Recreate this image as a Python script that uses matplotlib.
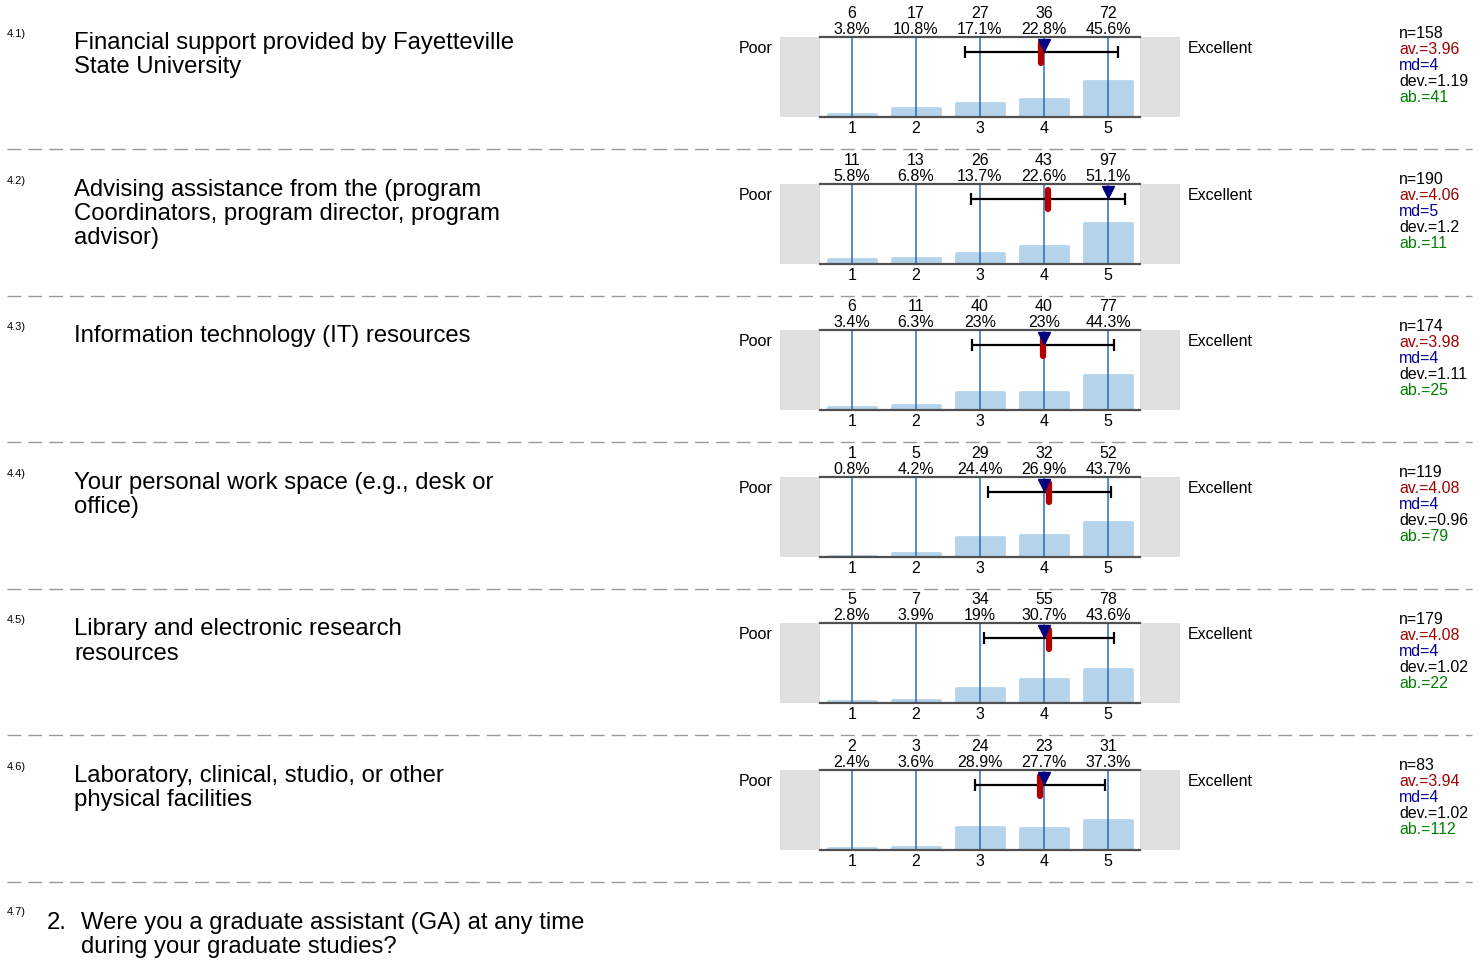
import matplotlib

matplotlib.use("Agg")
import matplotlib.pyplot as plt
from matplotlib.patches import Rectangle

plt.rcParams["font.family"] = ["Liberation Sans", "DejaVu Sans"]
plt.rcParams["lines.scale_dashes"] = False

# data
numbers = ["4.1)", "4.2)", "4.3)", "4.4)", "4.5)", "4.6)"]
questions = [
    "Financial support provided by Fayetteville\nState University",
    "Advising assistance from the (program\nCoordinators, program director, program\nadvisor)",
    "Information technology (IT) resources",
    "Your personal work space (e.g., desk or\noffice)",
    "Library and electronic research\nresources",
    "Laboratory, clinical, studio, or other\nphysical facilities",
]
categories = [1, 2, 3, 4, 5]
counts = [
    [6, 17, 27, 36, 72],
    [11, 13, 26, 43, 97],
    [6, 11, 40, 40, 77],
    [1, 5, 29, 32, 52],
    [5, 7, 34, 55, 78],
    [2, 3, 24, 23, 31],
]
percents = [
    [3.8, 10.8, 17.1, 22.8, 45.6],
    [5.8, 6.8, 13.7, 22.6, 51.1],
    [3.4, 6.3, 23, 23, 44.3],
    [0.8, 4.2, 24.4, 26.9, 43.7],
    [2.8, 3.9, 19, 30.7, 43.6],
    [2.4, 3.6, 28.9, 27.7, 37.3],
]
n_vals = [158, 190, 174, 119, 179, 83]
means = [3.96, 4.06, 3.98, 4.08, 4.08, 3.94]
medians = [4, 5, 4, 4, 4, 4]
devs = [1.19, 1.2, 1.11, 0.96, 1.02, 1.02]
abstain = [41, 11, 25, 79, 22, 112]
left_label = "Poor"
right_label = "Excellent"
last_number = "4.7)"
last_question = "Were you a graduate assistant (GA) at any time\nduring your graduate studies?"

W, H = 1484, 961
fig = plt.figure(figsize=(W / 100, H / 100), dpi=100)
bg = fig.add_axes([0, 0, 1, 1])
bg.set_xlim(0, W)
bg.set_ylim(H, 0)
bg.axis("off")

step = 146.6
bar_color = "#b5d4ec"
line_color = "#2a6db5"
frame_color = "#505050"
q_size = 17.2
q_spacing = 1.13

for i in range(len(questions)):
    top = 37 + i * step

    bg.text(7, top, numbers[i], fontsize=8, va="baseline")
    bg.text(74, top - 5, questions[i], fontsize=q_size, va="top", linespacing=q_spacing)
    bg.text(772, top + 16, left_label, fontsize=11.5, ha="right", va="baseline")
    bg.text(1188, top + 16, right_label, fontsize=11.5, ha="left", va="baseline")

    stats = [
        (f"n={n_vals[i]}", "black"),
        (f"av.={means[i]}", "#a00000"),
        (f"md={medians[i]}", "#000099"),
        (f"dev.={devs[i]}", "black"),
        (f"ab.={abstain[i]}", "#008000"),
    ]
    for k, (s, c) in enumerate(stats):
        bg.text(1399, top + 0.5 + 16 * k, s, fontsize=11.4, color=c, va="baseline")

    # separator under the block
    bg.plot([7, 1472], [149 + i * step] * 2, color="#9a9a9a", lw=1, dashes=(10, 5))

    # histogram block: 780..1180 px wide, 80 px tall
    ax = fig.add_axes([780 / W, 1 - (top + 80) / H, 400 / W, 80 / H])
    ax.set_xlim(-0.125, 6.125)
    ax.set_ylim(0, 100)
    ax.axis("off")

    ax.add_patch(Rectangle((-0.125, 0), 0.625, 100, color="#e0e0e0", lw=0))
    ax.add_patch(Rectangle((5.5, 0), 0.625, 100, color="#e0e0e0", lw=0))

    ax.bar(categories, percents[i], width=0.76, color=bar_color,
           edgecolor=bar_color, lw=2, joinstyle="round", zorder=1)
    ax.vlines(categories, 0, 100, color=line_color, lw=1.1, zorder=2)
    ax.plot([0.5, 5.5], [100, 100], color=frame_color, lw=1.6, clip_on=False, zorder=3)
    ax.plot([0.5, 5.5], [0, 0], color=frame_color, lw=1.6, clip_on=False, zorder=3)

    ax.errorbar(means[i], 81.25, xerr=devs[i], color="black", lw=1.6,
                capsize=4, capthick=1.6, zorder=4)
    ax.plot([means[i], means[i]], [92, 68], color="#b00000", lw=4.5,
            solid_capstyle="round", zorder=5)
    ax.plot(medians[i], 90, marker="v", color="#000080", markersize=8.5,
            clip_on=False, zorder=6)

    for c, cnt, pct in zip(categories, counts[i], percents[i]):
        ax.text(c, 100 + 19 / 0.8, str(cnt), fontsize=11.5, ha="center",
                va="baseline", clip_on=False)
        ax.text(c, 100 + 3 / 0.8, f"{pct:g}%", fontsize=11.5, ha="center",
                va="baseline", clip_on=False)
        ax.text(c, -16 / 0.8, str(c), fontsize=11.5, ha="center",
                va="baseline", clip_on=False)

top = 37 + len(questions) * step
bg.text(7, top - 2, last_number, fontsize=8, va="baseline")
bg.text(47, top - 5, "2.", fontsize=q_size, va="top")
bg.text(81, top - 5, last_question, fontsize=q_size, va="top", linespacing=q_spacing)

fig.savefig("out.png", dpi=100)
